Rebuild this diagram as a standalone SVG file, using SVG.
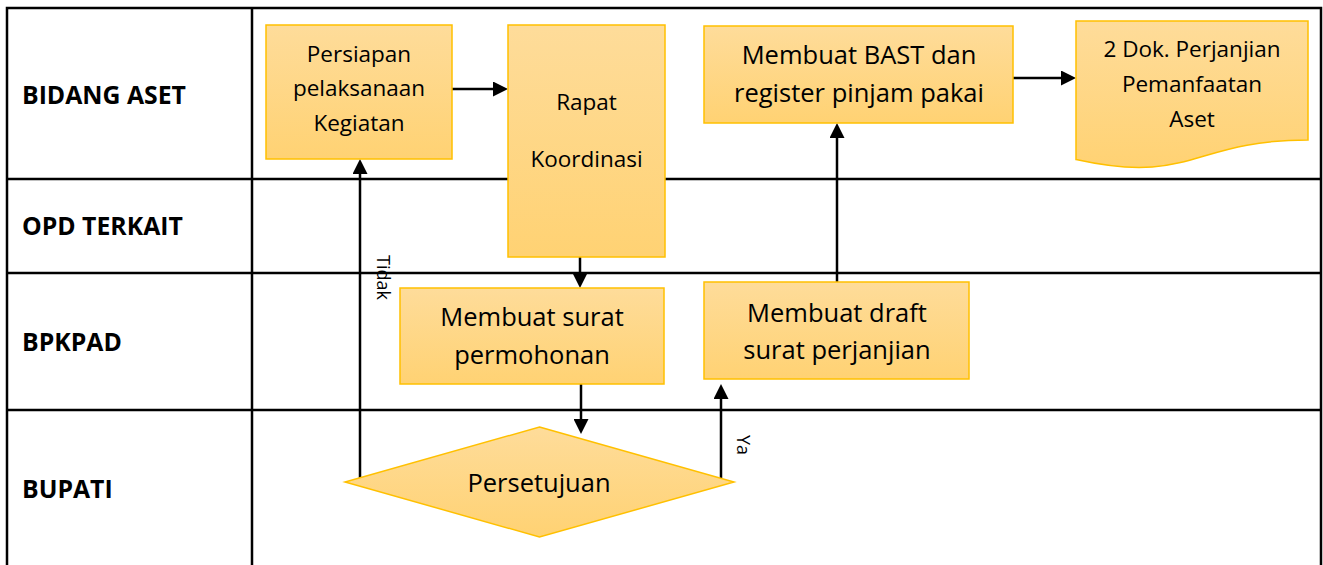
<svg xmlns="http://www.w3.org/2000/svg" width="1323" height="565" viewBox="0 0 1323 565">
  <defs>
    <linearGradient id="gold" x1="0" y1="0" x2="0" y2="1">
      <stop offset="0" stop-color="#FEDC9A"/>
      <stop offset="1" stop-color="#FFD273"/>
    </linearGradient>
    <marker id="arrow" viewBox="0 0 15 15" refX="10" refY="7.5" markerWidth="15" markerHeight="15" markerUnits="userSpaceOnUse" orient="auto">
      <path d="M0,0 L15,7.5 L0,15 Z" fill="#000"/>
    </marker>
  </defs>
  <style>
    .grid { stroke: #000; stroke-width: 2.5; fill: none; }
    .lane { font-family: "Open Sans", "Noto Sans", sans-serif; font-weight: bold; font-size: 24.8px; fill: #000; }
    .shape { fill: url(#gold); stroke: #FFC000; stroke-width: 1.5; }
    .t { font-family: "Open Sans", "Noto Sans", sans-serif; fill: #000; text-anchor: middle; }
    .s22 { font-size: 22.5px; }
    .s25 { font-size: 25.5px; }
    .lbl { font-family: "Open Sans", "Noto Sans", sans-serif; font-size: 18px; fill: #000; }
    .conn { stroke: #000; stroke-width: 2.5; fill: none; marker-end: url(#arrow); }
  </style>

  <rect width="1323" height="565" fill="#fff"/>

  <!-- swimlane table -->
  <g id="lanes">
    <path class="grid" d="M7,575 V8 H1321 V575"/>
    <line class="grid" x1="252" y1="8" x2="252" y2="575"/>
    <line class="grid" x1="7" y1="179" x2="1321" y2="179"/>
    <line class="grid" x1="7" y1="273" x2="1321" y2="273"/>
    <line class="grid" x1="7" y1="410" x2="1321" y2="410"/>
    <text class="lane" x="22" y="104">BIDANG ASET</text>
    <text class="lane" x="22" y="235">OPD TERKAIT</text>
    <text class="lane" x="22" y="351">BPKPAD</text>
    <text class="lane" x="22" y="498">BUPATI</text>
  </g>

  <!-- connectors -->
  <g id="connectors">
    <line class="conn" x1="452" y1="89" x2="503" y2="89"/>
    <line class="conn" x1="580" y1="257" x2="580" y2="283"/>
    <line class="conn" x1="581" y1="384" x2="581" y2="429"/>
    <line class="conn" x1="360" y1="478" x2="360" y2="164"/>
    <line class="conn" x1="721" y1="478" x2="721" y2="389"/>
    <line class="conn" x1="837" y1="282" x2="837" y2="128"/>
    <line class="conn" x1="1013" y1="78" x2="1071" y2="78"/>
    <text class="lbl" transform="translate(377,255) rotate(90)">Tidak</text>
    <text class="lbl" transform="translate(737,435) rotate(90)">Ya</text>
  </g>

  <g id="persiapan">
    <rect class="shape" x="266" y="25" width="186" height="134"/>
    <text class="t s22" x="359" y="61.5">Persiapan</text>
    <text class="t s22" x="359" y="96">pelaksanaan</text>
    <text class="t s22" x="359" y="130.5">Kegiatan</text>
  </g>

  <g id="rapat">
    <rect class="shape" x="508" y="25" width="157" height="232"/>
    <text class="t s22" x="586.5" y="110">Rapat</text>
    <text class="t s22" x="586.5" y="166.5">Koordinasi</text>
  </g>

  <g id="bast">
    <rect class="shape" x="704" y="26" width="309" height="97"/>
    <text class="t s25" x="859" y="63.5">Membuat BAST dan</text>
    <text class="t s25" x="859" y="102">register pinjam pakai</text>
  </g>

  <g id="dokumen">
    <path class="shape" d="M1076,21 H1308 V140 C1192,140 1192,185.4 1076,159.6 Z"/>
    <text class="t s22" x="1192" y="56.5">2 Dok. Perjanjian</text>
    <text class="t s22" x="1192" y="91.5">Pemanfaatan</text>
    <text class="t s22" x="1192" y="126.5">Aset</text>
  </g>

  <g id="surat">
    <rect class="shape" x="400" y="288" width="264" height="96"/>
    <text class="t s25" x="532" y="326">Membuat surat</text>
    <text class="t s25" x="532" y="364">permohonan</text>
  </g>

  <g id="draft">
    <rect class="shape" x="704" y="282" width="265" height="97"/>
    <text class="t s25" x="837" y="322">Membuat draft</text>
    <text class="t s25" x="837" y="359">surat perjanjian</text>
  </g>

  <g id="persetujuan">
    <polygon class="shape" points="539.5,427 734,482 539.5,537 345,482"/>
    <text class="t s25" x="539" y="492">Persetujuan</text>
  </g>
</svg>
